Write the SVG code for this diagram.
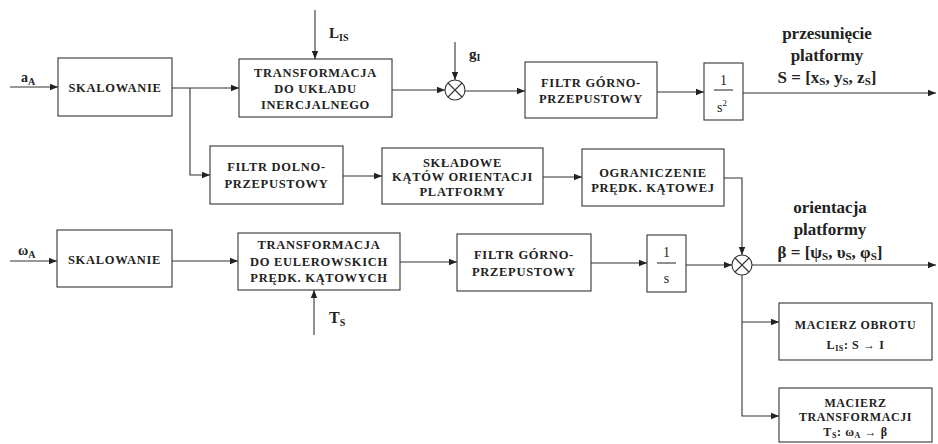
<svg xmlns="http://www.w3.org/2000/svg" width="938" height="444" viewBox="0 0 938 444">
<style>
.box{fill:#fff;stroke:#333;stroke-width:1.1}
.ln{fill:none;stroke:#333;stroke-width:1.1}
.t{font-family:"Liberation Serif","Times New Roman",serif;font-weight:bold;font-size:12.5px;fill:#222;text-anchor:middle;letter-spacing:0.7px}
.s{font-size:12px;letter-spacing:0.6px}
.lab{font-family:"Liberation Serif","Times New Roman",serif;font-weight:bold;fill:#222}
.frac{font-family:"Liberation Serif","Times New Roman",serif;font-size:14px;fill:#222;text-anchor:middle}
.big{font-size:17px;text-anchor:middle}
</style>
<defs>
<marker id="ar" viewBox="0 0 10 10" refX="10" refY="5" markerWidth="8" markerHeight="8" orient="auto" markerUnits="userSpaceOnUse">
<path d="M0,1 L10,5 L0,9 z" fill="#222"/>
</marker>
</defs>
<rect width="938" height="444" fill="#fff"/>

<g id="connectors">
<path class="ln" d="M10,87 H58" marker-end="url(#ar)"/>
<path class="ln" d="M172,88 H239" marker-end="url(#ar)"/>
<path class="ln" d="M190,88 V175 H210" marker-end="url(#ar)"/>
<path class="ln" d="M315,10 V59" marker-end="url(#ar)"/>
<path class="ln" d="M392,90 H445" marker-end="url(#ar)"/>
<path class="ln" d="M455,42 V80" marker-end="url(#ar)"/>
<path class="ln" d="M465,91 H525" marker-end="url(#ar)"/>
<path class="ln" d="M657,92 H704" marker-end="url(#ar)"/>
<path class="ln" d="M743,93 H936" marker-end="url(#ar)"/>
<path class="ln" d="M343,176 H382" marker-end="url(#ar)"/>
<path class="ln" d="M543,177 H582" marker-end="url(#ar)"/>
<path class="ln" d="M724,178 H742 V255" marker-end="url(#ar)"/>
<path class="ln" d="M10,261 H57" marker-end="url(#ar)"/>
<path class="ln" d="M172,261 H238" marker-end="url(#ar)"/>
<path class="ln" d="M314,335 V290" marker-end="url(#ar)"/>
<path class="ln" d="M400,262 H457" marker-end="url(#ar)"/>
<path class="ln" d="M591,263 H647" marker-end="url(#ar)"/>
<path class="ln" d="M686,265 H732" marker-end="url(#ar)"/>
<path class="ln" d="M752,265 H936" marker-end="url(#ar)"/>
<path class="ln" d="M742,275 V416 H779" marker-end="url(#ar)"/>
<path class="ln" d="M742,322 H779" marker-end="url(#ar)"/>
</g>

<g id="in-a">
<text class="lab" x="21" y="82" font-size="14">a<tspan font-size="10" dy="3">A</tspan></text>
</g>
<g id="in-LIS">
<text class="lab" x="329" y="38" font-size="15">L<tspan font-size="10" dy="3">IS</tspan></text>
</g>
<g id="in-g">
<text class="lab" x="469" y="59" font-size="15">g<tspan font-size="10" dy="2">I</tspan></text>
</g>
<g id="in-w">
<text class="lab" x="18" y="255" font-size="14">ω<tspan font-size="10" dy="3">A</tspan></text>
</g>
<g id="in-TS">
<text class="lab" x="329" y="323" font-size="16">T<tspan font-size="10" dy="3">S</tspan></text>
</g>

<g id="skal1">
<rect class="box" x="58" y="58" width="114" height="58"/>
<text class="t" x="115" y="92">SKALOWANIE</text>
</g>
<g id="trans1">
<rect class="box" x="239" y="59" width="153" height="58"/>
<text class="t" x="315.5" y="77">TRANSFORMACJA</text>
<text class="t" x="315.5" y="93">DO UKŁADU</text>
<text class="t" x="315.5" y="109">INERCJALNEGO</text>
</g>
<g id="sum1">
<circle class="box" cx="455" cy="90" r="10"/>
<path class="ln" d="M448,83 L462,97 M462,83 L448,97"/>
</g>
<g id="fg1">
<rect class="box" x="525" y="62" width="132" height="56"/>
<text class="t" x="591" y="87">FILTR GÓRNO-</text>
<text class="t" x="591" y="103">PRZEPUSTOWY</text>
</g>
<g id="int2">
<rect class="box" x="704" y="63" width="39" height="57"/>
<text class="frac" x="723.5" y="85">1</text>
<path class="ln" d="M714,90 H733" stroke-width="0.8"/>
<text class="frac" x="722" y="112">s<tspan font-size="9" dy="-6">2</tspan></text>
</g>
<g id="out1">
<text class="lab big" x="827" y="39">przesunięcie</text>
<text class="lab big" x="827" y="61">platformy</text>
<text class="lab big" x="827" y="83">S = [x<tspan font-size="11" dy="2">S</tspan><tspan dy="-2">, y</tspan><tspan font-size="11" dy="2">S</tspan><tspan dy="-2">, z</tspan><tspan font-size="11" dy="2">S</tspan><tspan dy="-2">]</tspan></text>
</g>

<g id="fd">
<rect class="box" x="210" y="146" width="133" height="58"/>
<text class="t" x="276.5" y="171">FILTR DOLNO-</text>
<text class="t" x="276.5" y="188">PRZEPUSTOWY</text>
</g>
<g id="skl">
<rect class="box" x="382" y="148" width="161" height="56"/>
<text class="t" x="462.5" y="167">SKŁADOWE</text>
<text class="t" x="462.5" y="181">KĄTÓW ORIENTACJI</text>
<text class="t" x="462.5" y="196">PLATFORMY</text>
</g>
<g id="ogr">
<rect class="box" x="582" y="149" width="142" height="57"/>
<text class="t" x="653" y="177">OGRANICZENIE</text>
<text class="t" x="653" y="192">PRĘDK. KĄTOWEJ</text>
</g>

<g id="skal2">
<rect class="box" x="57" y="230" width="115" height="57"/>
<text class="t" x="114.5" y="264">SKALOWANIE</text>
</g>
<g id="trans2">
<rect class="box" x="238" y="233" width="162" height="57"/>
<text class="t" x="319" y="249">TRANSFORMACJA</text>
<text class="t" x="319" y="266">DO EULEROWSKICH</text>
<text class="t" x="319" y="282">PRĘDK. KĄTOWYCH</text>
</g>
<g id="fg2">
<rect class="box" x="457" y="234" width="134" height="57"/>
<text class="t" x="524" y="259">FILTR GÓRNO-</text>
<text class="t" x="524" y="276">PRZEPUSTOWY</text>
</g>
<g id="int1">
<rect class="box" x="647" y="235" width="39" height="57"/>
<text class="frac" x="666.5" y="257">1</text>
<path class="ln" d="M657,263 H676" stroke-width="0.8"/>
<text class="frac" x="666.5" y="283">s</text>
</g>
<g id="sum2">
<circle class="box" cx="742" cy="265" r="10"/>
<path class="ln" d="M735,258 L749,272 M749,258 L735,272"/>
</g>
<g id="out2">
<text class="lab big" x="830" y="213">orientacja</text>
<text class="lab big" x="830" y="235">platformy</text>
<text class="lab big" x="830" y="258">β = [ψ<tspan font-size="11" dy="2">S</tspan><tspan dy="-2">, υ</tspan><tspan font-size="11" dy="2">S</tspan><tspan dy="-2">, φ</tspan><tspan font-size="11" dy="2">S</tspan><tspan dy="-2">]</tspan></text>
</g>

<g id="mo">
<rect class="box" x="779" y="303" width="153" height="57"/>
<text class="t s" x="855.5" y="329">MACIERZ OBROTU</text>
<text class="t s" x="855.5" y="349">L<tspan font-size="8" dy="2">IS</tspan><tspan dy="-2">:  S → I</tspan></text>
</g>
<g id="mt">
<rect class="box" x="779" y="388" width="153" height="54"/>
<text class="t s" x="855.5" y="407">MACIERZ</text>
<text class="t s" x="855.5" y="421">TRANSFORMACJI</text>
<text class="t s" x="855.5" y="436">T<tspan font-size="8" dy="2">S</tspan><tspan dy="-2">:  ω</tspan><tspan font-size="8" dy="2">A</tspan><tspan dy="-2"> → β</tspan></text>
</g>
</svg>
